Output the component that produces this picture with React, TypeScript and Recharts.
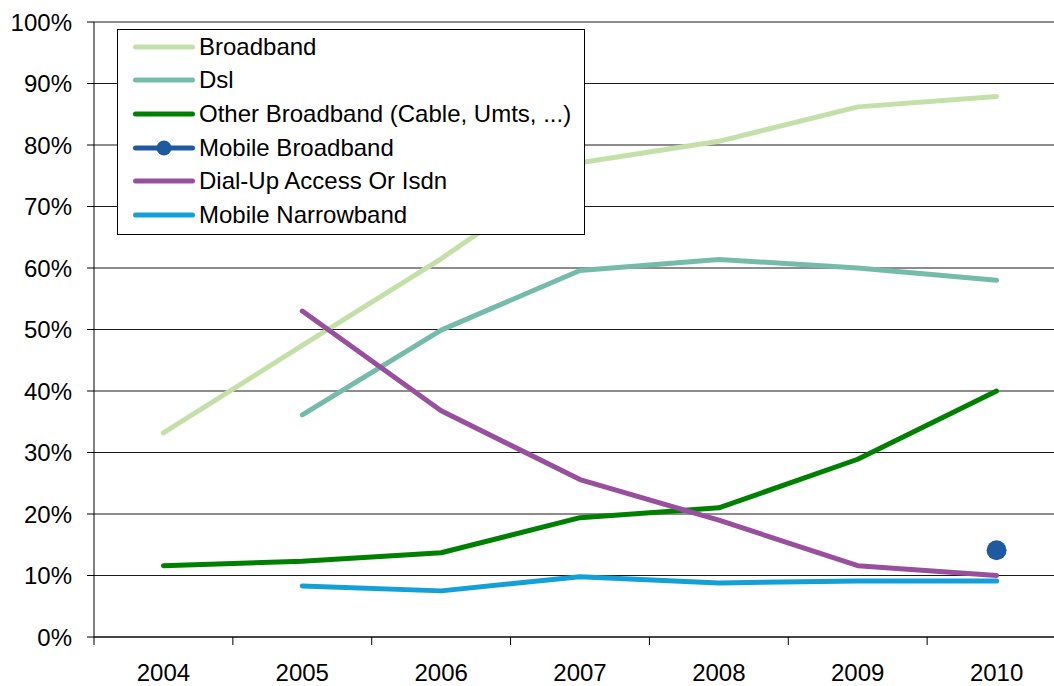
import { LineChart, Line, XAxis, YAxis, CartesianGrid, Legend } from 'recharts';

const years = [2004, 2005, 2006, 2007, 2008, 2009, 2010];
const broadband = [33.2, 47.4, 61.5, 77.1, 80.6, 86.2, 87.9];
const dsl = [null, 36.1, 49.9, 59.6, 61.4, 60.0, 58.0];
const otherBroadband = [11.6, 12.3, 13.7, 19.4, 21.0, 28.9, 40.0];
const mobileBroadband = [null, null, null, null, null, null, 14.1];
const dialUp = [null, 53.0, 36.8, 25.6, 19.0, 11.6, 10.0];
const mobileNarrowband = [null, 8.3, 7.5, 9.8, 8.8, 9.1, 9.1];
const yTicks = [0, 10, 20, 30, 40, 50, 60, 70, 80, 90, 100];

const series = [
  { key: 'broadband', name: 'Broadband', color: '#c4e0a9', dot: false },
  { key: 'dsl', name: 'Dsl', color: '#74bca9', dot: false },
  { key: 'other', name: 'Other Broadband (Cable, Umts, ...)', color: '#008000', dot: false },
  { key: 'mobileBb', name: 'Mobile Broadband', color: '#1f5aa0', dot: true },
  { key: 'dialUp', name: 'Dial-Up Access Or Isdn', color: '#984f9d', dot: false },
  { key: 'mobileNb', name: 'Mobile Narrowband', color: '#139fd8', dot: false },
];

const data = years.map((year, i) => ({
  year,
  broadband: broadband[i],
  dsl: dsl[i],
  other: otherBroadband[i],
  mobileBb: mobileBroadband[i],
  dialUp: dialUp[i],
  mobileNb: mobileNarrowband[i],
}));

const FONT = '"Liberation Sans", Arial, sans-serif';
const CHART_W = 1066;
const CHART_H = 686;
const Y_W = 94;
const HALF_BAND = (CHART_W - Y_W) / years.length / 2;

function YearTick(props: any) {
  const { x, y, payload, index } = props;
  return (
    <g>
      <line x1={x - HALF_BAND} y1={y} x2={x - HALF_BAND} y2={y + 8} stroke="#000" />
      {index === years.length - 1 && (
        <line x1={x + HALF_BAND} y1={y} x2={x + HALF_BAND} y2={y + 8} stroke="#000" />
      )}
      <text x={x} y={y + 44} textAnchor="middle" fontSize={24} fontFamily={FONT} fill="#000">
        {payload.value}
      </text>
    </g>
  );
}

function LegendBox() {
  return (
    <div
      style={{
        boxSizing: 'border-box',
        width: 468,
        height: 206,
        border: '1px solid #000',
        background: '#fff',
        fontFamily: FONT,
        fontSize: 24,
        color: '#000',
        textAlign: 'left',
      }}
    >
      {series.map((s) => (
        <div key={s.key} style={{ height: 33.6, display: 'flex', alignItems: 'center' }}>
          <svg width={62} height={20} style={{ marginLeft: 15, marginRight: 4 }}>
            <line x1={2.5} y1={10} x2={59.5} y2={10} stroke={s.color} strokeWidth={5} strokeLinecap="round" />
            {s.dot && <circle cx={31} cy={10} r={7.5} fill={s.color} />}
          </svg>
          <span style={{ whiteSpace: 'nowrap', lineHeight: '24px' }}>{s.name}</span>
        </div>
      ))}
    </div>
  );
}

export default function App() {
  return (
    <div
      style={{
        position: 'absolute',
        left: 0,
        top: 0,
        width: 1054,
        height: 686,
        overflow: 'hidden',
        background: '#fff',
      }}
    >
      <LineChart width={CHART_W} height={CHART_H} data={data} margin={{ top: 22, right: 0, left: 0, bottom: 0 }}>
        <CartesianGrid vertical={false} stroke="#1a1a1a" />
        <XAxis
          dataKey="year"
          type="number"
          domain={[2003.5, 2010.5]}
          ticks={years}
          height={49}
          axisLine={{ stroke: '#000' }}
          tickLine={false}
          tickSize={0}
          tickMargin={0}
          tick={<YearTick />}
          interval={0}
        />
        <YAxis
          width={Y_W}
          domain={[0, 100]}
          ticks={yTicks}
          interval={0}
          tickFormatter={(v: number) => `${v}%`}
          axisLine={{ stroke: '#000' }}
          tickLine={{ stroke: '#000' }}
          tickSize={7}
          tickMargin={15}
          tick={{ fontSize: 24, fontFamily: FONT, fill: '#000' }}
        />
        <Legend
          layout="vertical"
          align="center"
          verticalAlign="middle"
          content={<LegendBox />}
          wrapperStyle={{ left: 117, top: 29, width: 468, height: 206 }}
        />
        {series.map((s) => (
          <Line
            key={s.key}
            dataKey={s.key}
            name={s.name}
            stroke={s.color}
            strokeWidth={5}
            strokeLinecap="round"
            strokeLinejoin="round"
            dot={s.dot ? { r: 10, fill: s.color, stroke: 'none' } : false}
            activeDot={false}
            isAnimationActive={false}
          />
        ))}
      </LineChart>
    </div>
  );
}
